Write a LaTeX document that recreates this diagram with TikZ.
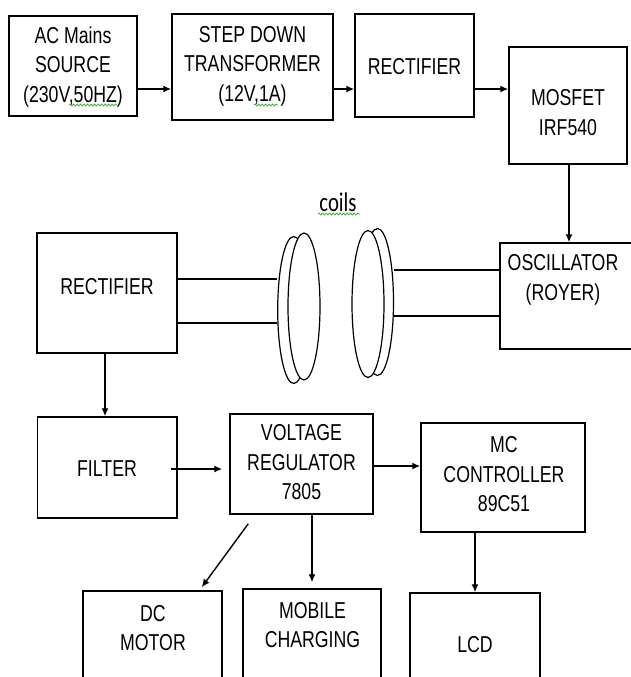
\documentclass[tikz,border=0pt]{standalone}
\usepackage{fontspec}
\setmainfont{Liberation Sans}[FakeStretch=0.77]
\newfontfamily\coilfont{Carlito}[FakeStretch=0.77]
\usetikzlibrary{arrows.meta,shapes.geometric,decorations.pathmorphing,calc}
\definecolor{squig}{RGB}{70,175,70}
\begin{document}
\begin{tikzpicture}[x=1pt,y=-1pt,
  box/.style={draw, line width=1.5pt, inner sep=0pt, rectangle},
  lbl/.style={align=center, inner sep=0pt, font=\fontsize{23}{29.5}\selectfont},
  arr/.style={line width=1.4pt, -{Latex[length=8pt,width=7pt]}},
  wire/.style={line width=1.4pt},
  coil/.style={draw, ellipse, line width=1.2pt, inner sep=0pt, minimum width=32pt, minimum height=147pt},
  squiggle/.style={draw=squig, line width=0.9pt, decorate, decoration={snake, segment length=3.5pt, amplitude=0.9pt}}]
\path[use as bounding box, clip] (0,0) rectangle (631,677);
\fill[white] (0,0) rectangle (631,677);
% boxes
\node[box, minimum width=128pt, minimum height=100pt] (ac) at (73,66) {};
\node[box, minimum width=161pt, minimum height=106pt] (step) at (252.5,67) {};
\node[box, minimum width=119pt, minimum height=103pt] (rect1) at (414.5,65.5) {};
\node[box, minimum width=118pt, minimum height=117pt] (mos) at (568,105.5) {};
\node[box, minimum width=140pt, minimum height=120pt] (rect2) at (107,293) {};
\node[box, minimum width=160pt, minimum height=106pt] (osc) at (580,296) {};
\node[box, minimum width=139.5pt, minimum height=101pt] (filt) at (107.25,467.5) {};
\node[box, minimum width=143pt, minimum height=100pt] (vr) at (301.5,464) {};
\node[box, minimum width=164pt, minimum height=109pt] (mc) at (503,477.5) {};
\node[box, minimum width=139pt, minimum height=109pt] (dc) at (152.5,645.5) {};
\node[box, minimum width=138pt, minimum height=111pt] (mob) at (312,644.5) {};
\node[box, minimum width=130pt, minimum height=107pt] (lcd) at (475,646.5) {};
% texts
\node[lbl] (t-ac) at (73,67) {AC Mains\\SOURCE\\(230V,50HZ)};
\node[lbl] (t-step) at (252.5,66) {STEP DOWN\\TRANSFORMER\\(12V,1A)};
\node[lbl] (t-rect1) at (414.5,67) {RECTIFIER};
\node[lbl] (t-mos) at (568,112.5) {MOSFET\\IRF540};
\node[lbl] (t-rect2) at (107,287) {RECTIFIER};
\node[lbl] (t-osc) at (563,280) {OSCILLATOR\\(ROYER)};
\node[lbl] (t-filt) at (107,469) {FILTER};
\node[lbl] (t-vr) at (301.5,462.5) {VOLTAGE\\REGULATOR\\7805};
\node[lbl] (t-mc) at (504,474.5) {MC\\CONTROLLER\\89C51};
\node[lbl] (t-dc) at (153,628) {DC\\MOTOR};
\node[lbl] (t-mob) at (312.5,625) {MOBILE\\CHARGING};
\node[lbl] (t-lcd) at (475,645) {LCD};
\node[inner sep=0pt, font=\coilfont\fontsize{27}{30}\selectfont] (t-coils) at (338,202) {coils};
% spell-check squiggles
\draw[squiggle] (69,105) -- (117,105);
\draw[squiggle] (254,105) -- (278,105);
\draw[squiggle] (318,214) -- (360,214);
% coils
\node[coil] (cLa) at (293.7,310) {};
\node[coil, fill=white] (cLb) at (304,306.5) {};
\node[coil] (cRb) at (377.5,302) {};
\node[coil, fill=white] (cRa) at (368,304) {};
% wires
\draw[wire] ([yshift=14pt]rect2.east) -- ([yshift=14pt]rect2.east -| cLa.west);
\draw[wire] ([yshift=-30pt]rect2.east) -- ([yshift=-30pt]rect2.east -| cLa.west);
\draw[wire] ([yshift=26pt]osc.west) -- ([yshift=26pt]osc.west -| cRb.east);
\draw[wire] ([yshift=-20pt]osc.west) -- ([yshift=-20pt]osc.west -| cRb.east);
% arrows
\draw[arr] ([yshift=-23pt]ac.east) -- ([yshift=-23pt]ac.east -| step.west);
\draw[arr] ([yshift=-22pt]step.east) -- ([yshift=-22pt]step.east -| rect1.west);
\draw[arr] ([yshift=-23.5pt]rect1.east) -- ([yshift=-23.5pt]rect1.east -| mos.west);
\draw[arr] ([xshift=1pt]mos.south) -- ([xshift=1pt]mos.south |- osc.north);
\draw[arr] ([xshift=-2pt]rect2.south) -- ([xshift=-2pt]rect2.south |- filt.north);
\draw[arr] ([xshift=-7pt,yshift=-1.5pt]filt.east) -- ([xshift=-7pt,yshift=-1.5pt]filt.east -| vr.west);
\draw[arr] ([yshift=-2pt]vr.east) -- ([yshift=-2pt]vr.east -| mc.west);
\coordinate (dcstart) at ($(vr.south west)+(19,9)$);
\draw[arr] (dcstart) -- ([xshift=-21pt,yshift=3pt]dc.north east);
\draw[arr] ([xshift=10.5pt]vr.south) -- ([xshift=10.5pt,yshift=6pt]vr.south |- mob.north);
\draw[arr] (lcd.north |- mc.south) -- (lcd.north);
\end{tikzpicture}
\end{document}
